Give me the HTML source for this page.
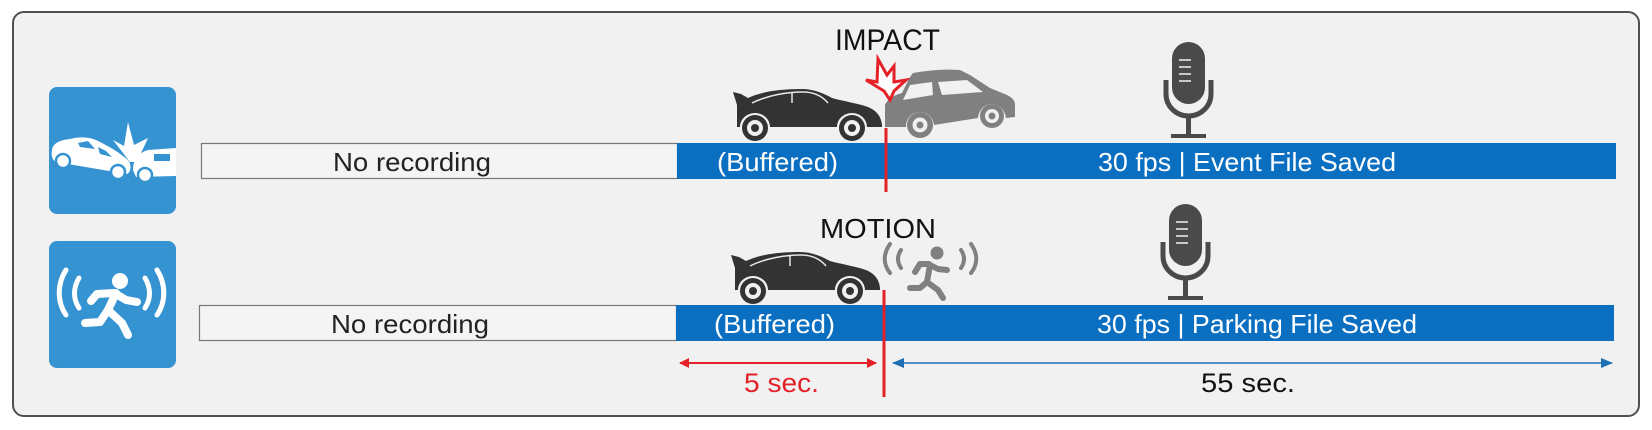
<!DOCTYPE html>
<html><head><meta charset="utf-8"><style>
html,body{margin:0;padding:0;background:#fff;}
svg{display:block;}
text{font-family:"Liberation Sans",sans-serif;}
</style></head><body>
<svg width="1652" height="430" viewBox="0 0 1652 430" xmlns="http://www.w3.org/2000/svg">
<defs>
<marker id="ar" markerWidth="10" markerHeight="10" refX="9" refY="5" orient="auto-start-reverse" markerUnits="userSpaceOnUse"><path d="M0,0 L10,5 L0,10 Z" fill="#e32127"/></marker>
<marker id="ab" markerWidth="12" markerHeight="10" refX="11" refY="5" orient="auto-start-reverse" markerUnits="userSpaceOnUse"><path d="M0,0 L12,5 L0,10 Z" fill="#1f6fb5"/></marker>
<g id="sedan">
<path d="M4,17 L0,4 L8,6 L15,10 C28,4 45,1 69,1 C80,1 90,5 99,10 C110,13 122,15 132,18 C142,21 148,27 149,37 L149,39 L134,39 C134,31 127,25 119,25 C111,25 104,31 104,39 L37,39 C37,31 30,25 22,25 C14,25 7,31 7,39 L4,39 Z" fill="#333"/>
<path d="M19,15 C35,7 55,4 70,4 C82,4 90,9 95,15" fill="none" stroke="#e8e8e8" stroke-width="1.5"/>
<line x1="59" y1="4" x2="59" y2="15" stroke="#e8e8e8" stroke-width="1.5"/>
<circle cx="22" cy="40" r="13" fill="#333"/><circle cx="22" cy="40" r="8" fill="#f1f1f1"/><circle cx="22" cy="40" r="4" fill="#333"/>
<circle cx="119" cy="40" r="13" fill="#333"/><circle cx="119" cy="40" r="8" fill="#f1f1f1"/><circle cx="119" cy="40" r="4" fill="#333"/>
</g>
<g id="mic">
<rect x="9" y="0" width="33" height="62" rx="16.5" fill="#4a4a4a"/>
<path d="M16,18 H28 M16,25 H28 M16,32 H28 M16,39 H28" stroke="#f1f1f1" stroke-width="1.5"/>
<path d="M3,38 V52 C3,65 14,74 25.5,74 C37,74 48,65 48,52 V38" fill="none" stroke="#4a4a4a" stroke-width="5"/>
<line x1="25.5" y1="74" x2="25.5" y2="93" stroke="#4a4a4a" stroke-width="5"/>
<line x1="8" y1="94" x2="43" y2="94" stroke="#4a4a4a" stroke-width="4"/>
</g>
</defs>
<rect x="13" y="12" width="1626" height="404" rx="11" fill="#f1f1f1" stroke="#505050" stroke-width="2"/>

<!-- icon 1: crash -->
<rect x="49" y="87" width="127" height="127" rx="8" fill="#3593d2"/>
<g fill="#fff">
<path d="M52,150 C53,143 60,140 70,139 C80,136 92,137 100,142 C110,147 120,153 128,160 C132,165 131,172 127,174 L56,162 C52,160 51,155 52,150 Z"/>
<path d="M133,170 C133,160 138,153 148,150 L176,148 L176,176 L136,177 Z"/>
<path d="M130,162 L113,140 L124,146 L128,122 L134,145 L148,138 L137,162 Z"/>
</g>
<path d="M78,143 L88,141 L95,149 L80,147 Z M98,147 L106,151 L112,157 L100,154 Z" fill="#3593d2"/>
<rect x="154" y="154" width="16" height="7" fill="#3593d2"/>
<circle cx="63" cy="161" r="7" fill="#fff" stroke="#3593d2" stroke-width="2.5"/>
<circle cx="118" cy="172" r="7" fill="#fff" stroke="#3593d2" stroke-width="2.5"/>
<circle cx="145" cy="175" r="7" fill="#fff" stroke="#3593d2" stroke-width="2.5"/>

<!-- icon 2: motion -->
<rect x="49" y="241" width="127" height="127" rx="8" fill="#3593d2"/>
<g fill="none" stroke="#fff" stroke-width="5" stroke-linecap="round">
<path d="M66,270 C57,284 57,302 66,315"/><path d="M79,278 C73,288 73,299 79,308"/>
<path d="M157,270 C166,284 166,302 157,315"/><path d="M145,278 C151,288 151,299 145,308"/>
</g>
<g fill="none" stroke="#fff" stroke-width="8" stroke-linecap="round" stroke-linejoin="round">
<path d="M116,293 L108,310 L122,323 L128,335"/><path d="M108,310 L100,322 L85,323"/>
<path d="M114,293 L97,294 L91,301"/><path d="M116,294 L126,300 L137,302"/>
</g>
<circle cx="120" cy="281" r="8" fill="#fff"/>

<!-- bars -->
<rect x="201.5" y="143.5" width="476" height="35" fill="#f4f4f4" stroke="#777" stroke-width="1.2"/>
<rect x="677" y="143" width="939" height="36" fill="#0b6fc1"/>
<rect x="199.5" y="305.5" width="477" height="35" fill="#f4f4f4" stroke="#777" stroke-width="1.2"/>
<rect x="676" y="305" width="938" height="36" fill="#0b6fc1"/>

<text x="412" y="171" font-size="26" text-anchor="middle" fill="#222" textLength="158" lengthAdjust="spacingAndGlyphs">No recording</text>
<text x="410" y="333" font-size="26" text-anchor="middle" fill="#222" textLength="158" lengthAdjust="spacingAndGlyphs">No recording</text>
<text x="717" y="171" font-size="26" fill="#fff" textLength="121" lengthAdjust="spacingAndGlyphs">(Buffered)</text>
<text x="714" y="333" font-size="26" fill="#fff" textLength="121" lengthAdjust="spacingAndGlyphs">(Buffered)</text>
<text x="1098" y="171" font-size="26" fill="#fff" textLength="298" lengthAdjust="spacingAndGlyphs">30 fps | Event File Saved</text>
<text x="1097" y="333" font-size="26" fill="#fff" textLength="320" lengthAdjust="spacingAndGlyphs">30 fps | Parking File Saved</text>

<!-- labels -->
<text x="835" y="50" font-size="30" fill="#111" textLength="105" lengthAdjust="spacingAndGlyphs">IMPACT</text>
<text x="820" y="238" font-size="28" fill="#111" textLength="116" lengthAdjust="spacingAndGlyphs">MOTION</text>

<!-- cars -->
<use href="#sedan" x="733" y="88"/>
<use href="#sedan" x="731" y="251"/>
<path d="M885,127 L885,105 C888,98 895,95 902,93 L910,77 L913,73 C930,70 945,69 960,70 L970,75 L990,88 L1007,95 C1013,98 1015,101 1015,105 L1015,117 L1006,118 C1005,110 999,104 992,104 C984,104 979,110 978,118 L934,125 C933,117 927,112 920,112 C912,112 906,118 906,127 Z" fill="#808080"/>
<circle cx="920" cy="125" r="13" fill="#808080"/><circle cx="920" cy="125" r="7.5" fill="#f1f1f1"/><circle cx="920" cy="125" r="3.5" fill="#808080"/>
<circle cx="992" cy="116" r="12" fill="#808080"/><circle cx="992" cy="116" r="7" fill="#f1f1f1"/><circle cx="992" cy="116" r="3.5" fill="#808080"/>
<path d="M903,100 L910,85 L932,82 L933,95 Z M938,82 L967,80 L983,92 L942,95 Z" fill="#f1f1f1"/>
<path d="M866,80 L877,82 L878,59 L887,75 L894,66 L894,82 L906,80 L894,91 L890,100 L884,91 Z" fill="#fff" stroke="#e32127" stroke-width="3" stroke-linejoin="miter"/>

<!-- running person gray -->
<g fill="none" stroke="#808080" stroke-width="4" stroke-linecap="round">
<path d="M890,244 C883,254 883,264 890,273"/><path d="M901,250 C897,256 897,262 901,268"/>
<path d="M971,244 C978,254 978,264 971,273"/><path d="M961,250 C965,256 965,262 961,268"/>
</g>
<g fill="none" stroke="#808080" stroke-width="6" stroke-linecap="round" stroke-linejoin="round">
<path d="M930,265 L927,282 L938,290 L943,298"/><path d="M927,282 L920,288 L910,288"/>
<path d="M929,264 L920,264 L915,272"/><path d="M932,266 L938,269 L947,270"/>
</g>
<circle cx="937" cy="253" r="6.5" fill="#808080"/>

<!-- mics -->
<use href="#mic" x="1163" y="42"/>
<use href="#mic" x="1160" y="204"/>

<!-- red lines -->
<line x1="886" y1="128" x2="886" y2="192" stroke="#e32127" stroke-width="3"/>
<line x1="884" y1="290" x2="884" y2="397" stroke="#e32127" stroke-width="3"/>

<!-- arrows -->
<line x1="680" y1="363" x2="876" y2="363" stroke="#e32127" stroke-width="2" marker-start="url(#ar)" marker-end="url(#ar)"/>
<line x1="893" y1="363" x2="1612" y2="363" stroke="#1f6fb5" stroke-width="1.5" marker-start="url(#ab)" marker-end="url(#ab)"/>
<text x="744" y="392" font-size="27" fill="#e32127" textLength="75" lengthAdjust="spacingAndGlyphs">5 sec.</text>
<text x="1201" y="392" font-size="27" fill="#111" textLength="94" lengthAdjust="spacingAndGlyphs">55 sec.</text>
</svg>
</body></html>
